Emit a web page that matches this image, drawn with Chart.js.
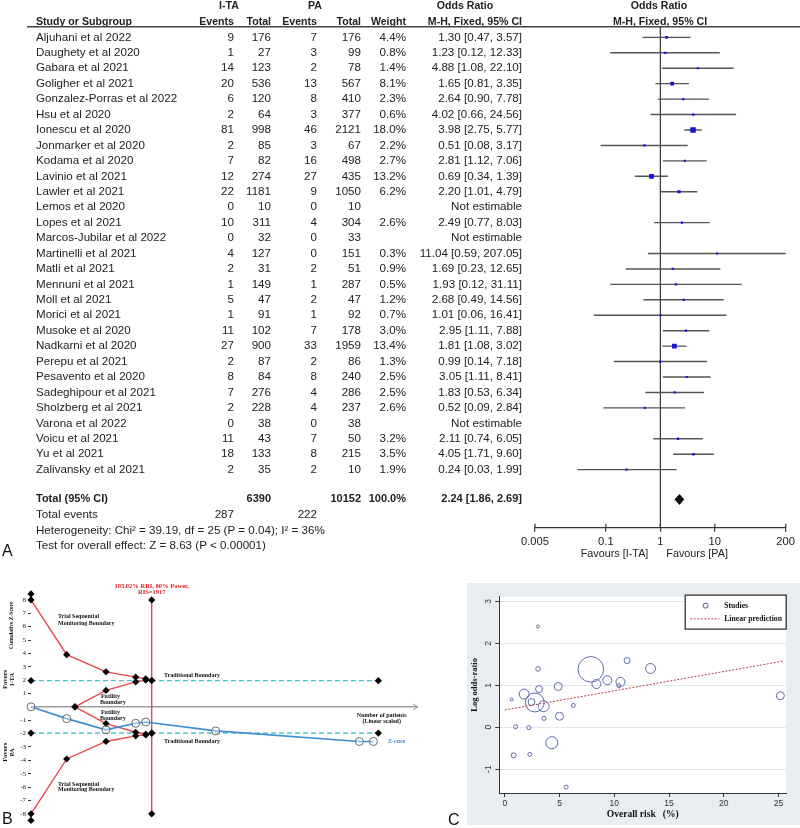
<!DOCTYPE html>
<html>
<head>
<meta charset="utf-8">
<script src="https://cdn.jsdelivr.net/npm/chart.js@4.4.1/dist/chart.umd.min.js"></script>
<style>
html, body { margin: 0; padding: 0; background: #fff; }
#wrap { position: relative; width: 800px; height: 828px; overflow: hidden; background: #fff; }
canvas { position: absolute; }
.panel { position: absolute; font: 16px "Liberation Sans", Arial, sans-serif; line-height: 16px; color: #111; }
</style>
</head>
<body>
<div id="wrap">
  <canvas id="forest" width="800" height="565" style="left:0;top:0"></canvas>
  <canvas id="tsa" width="425" height="258" style="left:0;top:570px"></canvas>
  <canvas id="bubble" width="333" height="242" style="left:467px;top:583px"></canvas>
  <div class="panel" style="left:2px;top:543px">A</div>
  <div class="panel" style="left:2px;top:811px">B</div>
  <div class="panel" style="left:448px;top:812px">C</div>
</div>
<script>
// ===== Panel A data: forest plot =====
const studies = [
    "Aljuhani et al 2022", "Daughety et al 2020", "Gabara et al 2021", "Goligher et al 2021",
    "Gonzalez-Porras et al 2022", "Hsu et al 2020", "Ionescu et al 2020", "Jonmarker et al 2020",
    "Kodama et al 2020", "Lavinio et al 2021", "Lawler et al 2021", "Lemos et al 2020",
    "Lopes et al 2021", "Marcos-Jubilar et al 2022", "Martinelli et al 2021", "Matli et al 2021",
    "Mennuni et al 2021", "Moll et al 2021", "Morici et al 2021", "Musoke et al 2020",
    "Nadkarni et al 2020", "Perepu et al 2021", "Pesavento et al 2020", "Sadeghipour et al 2021",
    "Sholzberg et al 2021", "Varona et al 2022", "Voicu et al 2021", "Yu et al 2021", "Zalivansky et al 2021"
];
const itaEvents = [9, 1, 14, 20, 6, 2, 81, 2, 7, 12, 22, 0, 10, 0, 4, 2, 1, 5, 1, 11, 27, 2, 8, 7, 2, 0, 11, 18, 2];
const itaTotal = [176, 27, 123, 536, 120, 64, 998, 85, 82, 274, 1181, 10, 311, 32, 127, 31, 149, 47, 91, 102, 900, 87, 84, 276, 228, 38, 43, 133, 35];
const paEvents = [7, 3, 2, 13, 8, 3, 46, 3, 16, 27, 9, 0, 4, 0, 0, 2, 1, 2, 1, 7, 33, 2, 8, 4, 4, 0, 7, 8, 2];
const paTotal = [176, 99, 78, 567, 410, 377, 2121, 67, 498, 435, 1050, 10, 304, 33, 151, 51, 287, 47, 92, 178, 1959, 86, 240, 286, 237, 38, 50, 215, 10];
const weightPct = [4.4, 0.8, 1.4, 8.1, 2.3, 0.6, 18.0, 2.2, 2.7, 13.2, 6.2, null, 2.6, null, 0.3, 0.9, 0.5, 1.2, 0.7, 3.0, 13.4, 1.3, 2.5, 2.5, 2.6, null, 3.2, 3.5, 1.9];
const orPoint = [1.30, 1.23, 4.88, 1.65, 2.64, 4.02, 3.98, 0.51, 2.81, 0.69, 2.20, null, 2.49, null, 11.04, 1.69, 1.93, 2.68, 1.01, 2.95, 1.81, 0.99, 3.05, 1.83, 0.52, null, 2.11, 4.05, 0.24];
const orLow = [0.47, 0.12, 1.08, 0.81, 0.90, 0.66, 2.75, 0.08, 1.12, 0.34, 1.01, null, 0.77, null, 0.59, 0.23, 0.12, 0.49, 0.06, 1.11, 1.08, 0.14, 1.11, 0.53, 0.09, null, 0.74, 1.71, 0.03];
const orHigh = [3.57, 12.33, 22.10, 3.35, 7.78, 24.56, 5.77, 3.17, 7.06, 1.39, 4.79, null, 8.03, null, 207.05, 12.65, 31.11, 14.56, 16.41, 7.88, 3.02, 7.18, 8.41, 6.34, 2.84, null, 6.05, 9.60, 1.99];
const pooledOR = [2.24, 1.86, 2.69];   // estimate, low, high
const totalParticipants = [6390, 10152];
const totalEvents = [287, 222];
const forestTicks = [0.005, 0.1, 1, 10, 200];

// ===== Panel B data: trial sequential analysis =====
const tsmbX = [0, 567, 1191, 1663, 1822, 1917];
const tsmbUpper = [8.0, 3.9, 2.62, 2.22, 2.1, 1.97];
const tsmbLower = [-8.0, -3.9, -2.59, -2.17, -2.1, -1.97];
const futilityX = [699, 1191, 1663, 1822, 1917];
const futilityUpper = [0, 1.23, 1.87, 2.0, 1.97];
const futilityLower = [0, -1.25, -1.9, -2.05, -1.97];
const traditionalX = [0, 5516];
const traditionalZ = 1.96;
const risPatients = 1917;
const capZ = [8.45, -8.5];
const zCurveX = [0, 567, 1191, 1663, 1822, 2933, 5214, 5437];
const zCurveY = [0, -0.88, -1.72, -1.23, -1.13, -1.8, -2.59, -2.59];
const tsaYTicks = [-8, -7, -6, -5, -4, -3, -2, -1, 1, 2, 3, 4, 5, 6, 7, 8];

// ===== Panel C data: meta-regression =====
const overallRisk = [3.04, 3.04, 7.86, 11.17, 13.31, 9.36, 8.37, 10.57, 10.42, 4.88, 3.13, 1.77, 0.63, 2.44, 2.74, 3.55, 6.26, 25.17, 5.0, 3.58, 0.99, 2.2, 4.3, 0.81, 2.29, 5.6];
const logOddsRatio = [2.40, 1.39, 1.38, 1.59, 1.40, 1.12, 1.03, 1.08, 0.99, 0.97, 0.91, 0.79, 0.66, 0.60, 0.59, 0.50, 0.52, 0.75, 0.26, 0.21, 0.01, -0.01, -0.37, -0.67, -0.65, -1.43];
const bubbleWeight = [1.0, 2.4, 73, 4, 11, 9, 9, 9, 1.8, 7.1, 5.4, 11, 1.0, 5.4, 40, 13.4, 1.8, 7.1, 7.1, 1.8, 1.8, 1.8, 16, 2.8, 1.8, 1.8];
const fitX = [0, 25.5];
const fitY = [0.41, 1.58];
const riskTicks = [0, 5, 10, 15, 20, 25];
const lorTicks = [-1, 0, 1, 2, 3];

Chart.defaults.animation = false;
Chart.defaults.plugins.legend.display = false;
Chart.defaults.plugins.tooltip.enabled = false;
Chart.defaults.font.family = '"Liberation Sans", Arial, sans-serif';

const SANS = '"Liberation Sans", Arial, sans-serif';
const SERIF = '"Liberation Serif", "Times New Roman", serif';

// ===== 1. Forest plot =====
const rowTop = -0.69, rowBottom = 31.76;
const totalRow = 29.93;

const ciPoints = [];
const dotPoints = [];
const dotRadius = [];
studies.forEach((s, i) => {
    if (orPoint[i] === null) return;
    ciPoints.push({ x: orLow[i], y: i }, { x: orHigh[i], y: i }, { x: null, y: null });
    dotPoints.push({ x: orPoint[i], y: i });
    const side = Math.max(2.2, 1.3 * Math.sqrt(weightPct[i]));
    dotRadius.push(side / Math.SQRT2);
});
const diamond = [
    { x: pooledOR[1], y: totalRow },
    { x: pooledOR[0], y: totalRow - 0.32 },
    { x: pooledOR[2], y: totalRow },
    { x: pooledOR[0], y: totalRow + 0.32 },
    { x: pooledOR[1], y: totalRow }
];

const forestTable = {
    id: "forestTable",
    afterDraw(chart) {
        const { ctx, chartArea: a, scales: { x, y } } = chart;
        const row = (v) => y.getPixelForValue(v);
        const put = (t, px, v, align, font) => {
            ctx.font = font;
            ctx.textAlign = align;
            ctx.fillText(t, px, row(v));
        };
        const reg = "11.6px " + SANS, bold = "bold 10.6px " + SANS, boldT = "bold 11px " + SANS;
        ctx.save();
        ctx.fillStyle = "#222";
        ctx.textBaseline = "middle";

        // header
        put("I-TA", 229, -2.03, "center", bold);
        put("PA", 315, -2.03, "center", bold);
        put("Odds Ratio", 465, -2.03, "center", bold);
        put("Odds Ratio", 659, -2.03, "center", bold);
        put("Study or Subgroup", 36, -1.01, "left", bold);
        put("Events", 234, -1.01, "right", bold);
        put("Total", 271, -1.01, "right", bold);
        put("Events", 317, -1.01, "right", bold);
        put("Total", 361, -1.01, "right", bold);
        put("Weight", 406, -1.01, "right", bold);
        put("M-H, Fixed, 95% CI", 522, -1.01, "right", bold);
        put("M-H, Fixed, 95% CI", 660, -1.01, "center", bold);

        ctx.strokeStyle = "#444";
        ctx.lineWidth = 1.5;
        ctx.beginPath();
        ctx.moveTo(27, a.top);
        ctx.lineTo(800, a.top);
        ctx.stroke();

        // study rows
        studies.forEach((s, i) => {
            put(s, 36, i, "left", reg);
            put(String(itaEvents[i]), 234, i, "right", reg);
            put(String(itaTotal[i]), 271, i, "right", reg);
            put(String(paEvents[i]), 317, i, "right", reg);
            put(String(paTotal[i]), 361, i, "right", reg);
            if (orPoint[i] === null) {
                put("Not estimable", 522, i, "right", reg);
            } else {
                put(weightPct[i].toFixed(1) + "%", 406, i, "right", reg);
                put(orPoint[i].toFixed(2) + " [" + orLow[i].toFixed(2) + ", " + orHigh[i].toFixed(2) + "]", 522, i, "right", reg);
            }
        });

        // totals
        put("Total (95% CI)", 36, totalRow, "left", boldT);
        put(String(totalParticipants[0]), 271, totalRow, "right", boldT);
        put(String(totalParticipants[1]), 361, totalRow, "right", boldT);
        put("100.0%", 406, totalRow, "right", boldT);
        put(pooledOR[0].toFixed(2) + " [" + pooledOR[1].toFixed(2) + ", " + pooledOR[2].toFixed(2) + "]", 522, totalRow, "right", boldT);
        put("Total events", 36, totalRow + 1, "left", reg);
        put(String(totalEvents[0]), 234, totalRow + 1, "right", reg);
        put(String(totalEvents[1]), 317, totalRow + 1, "right", reg);
        put("Heterogeneity: Chi\u00b2 = 39.19, df = 25 (P = 0.04); I\u00b2 = 36%", 36, totalRow + 2, "left", reg);
        put("Test for overall effect: Z = 8.63 (P < 0.00001)", 36, totalRow + 3, "left", reg);

        // upper half of the axis ticks
        ctx.strokeStyle = "#333";
        ctx.lineWidth = 1.2;
        x.ticks.forEach((t) => {
            const px = x.getPixelForValue(t.value);
            ctx.beginPath();
            ctx.moveTo(px, a.bottom - 4);
            ctx.lineTo(px, a.bottom);
            ctx.stroke();
        });

        const x1 = x.getPixelForValue(1);
        ctx.font = "10.8px " + SANS;
        ctx.textAlign = "right";
        ctx.fillText("Favours [I-TA]", x1 - 12, a.bottom + 26);
        ctx.textAlign = "left";
        ctx.fillText("Favours [PA]", x1 + 6, a.bottom + 26);
        ctx.restore();
    }
};

new Chart(document.getElementById("forest"), {
    type: "scatter",
    data: {
        datasets: [
            {
                data: dotPoints,
                pointStyle: "rect",
                pointRadius: dotRadius,
                pointBackgroundColor: "#1414d8",
                pointBorderColor: "#1414d8",
                pointBorderWidth: 0
            },
            {
                data: diamond,
                showLine: true,
                fill: "shape",
                backgroundColor: "#111",
                borderColor: "#111",
                borderWidth: 1,
                pointRadius: 0,
                tension: 0
            },
            {
                data: ciPoints,
                showLine: true,
                spanGaps: false,
                borderColor: "#555",
                borderWidth: 1.4,
                pointRadius: 0,
                tension: 0
            },
            {
                data: [{ x: 1, y: rowTop }, { x: 1, y: rowBottom }],
                showLine: true,
                borderColor: "#333",
                borderWidth: 1.2,
                pointRadius: 0
            }
        ]
    },
    options: {
        responsive: false,
        layout: { padding: { left: 535, right: 14.3, top: 26.7, bottom: 0 } },
        scales: {
            x: {
                type: "logarithmic",
                min: 0.005,
                max: 200,
                afterBuildTicks: (s) => { s.ticks = forestTicks.map((v) => ({ value: v })); },
                afterFit: (s) => { s.height = 565 - 527.7; },
                grid: { drawOnChartArea: false, drawTicks: true, tickLength: 4, color: "#333", lineWidth: 1.2 },
                border: { display: true, color: "#333", width: 1.3 },
                ticks: {
                    autoSkip: false, maxRotation: 0, padding: 3,
                    color: "#222", font: { size: 11.2, family: SANS },
                    callback: (v) => String(v)
                }
            },
            y: {
                type: "linear",
                display: false,
                reverse: true,
                min: rowTop,
                max: rowBottom
            }
        }
    },
    plugins: [forestTable]
});

// ===== 2. Trial sequential analysis =====
const xy = (xs, ys) => xs.map((v, i) => ({ x: v, y: ys[i] }));
const RED = "#e8474c";
const diamondPts = { pointStyle: "rectRot", pointRadius: 3.6, pointBackgroundColor: "#000", pointBorderColor: "#000", pointBorderWidth: 0 };

const tsaText = {
    id: "tsaText",
    beforeDatasetsDraw(chart) {
        const { ctx, chartArea: a, scales: { y } } = chart;
        const y0 = y.getPixelForValue(0);
        ctx.save();
        ctx.strokeStyle = "#9c9c9c";
        ctx.lineWidth = 1.5;
        ctx.beginPath();
        ctx.moveTo(a.left, y0);
        ctx.lineTo(a.right, y0);
        ctx.stroke();
        ctx.lineWidth = 1;
        ctx.beginPath();
        ctx.moveTo(a.right - 5, y0 - 3);
        ctx.lineTo(a.right, y0);
        ctx.lineTo(a.right - 5, y0 + 3);
        ctx.stroke();
        ctx.restore();
    },
    afterDraw(chart) {
        const { ctx, scales: { x, y } } = chart;
        const put = (t, xv, yv, align, color, size) => {
            ctx.font = "bold " + (size || 6) + "px " + SERIF;
            ctx.fillStyle = color || "#111";
            ctx.textAlign = align;
            ctx.fillText(t, x.getPixelForValue(xv), y.getPixelForValue(yv));
        };
        ctx.save();
        ctx.textBaseline = "middle";
        put("Trial Sequential", 429, 6.73, "left");
        put("Monitoring Boundary", 429, 6.21, "left");
        put("Trial Sequential", 429, -5.77, "left");
        put("Monitoring Boundary", 429, -6.21, "left");
        put("Futility", 1110, 0.76, "left");
        put("Boundary", 1096, 0.31, "left");
        put("Futility", 1110, -0.43, "left");
        put("Boundary", 1096, -0.88, "left");
        put("Traditional Boundary", 2112, 2.37, "left");
        put("Traditional Boundary", 2112, -2.59, "left");
        put("Number of patients", 5569, -0.68, "center");
        put("(Linear scaled)", 5569, -1.1, "center");
        put("Z-cure", 5669, -2.57, "left", "#3d8ed4");
        put("105.02% RRI, 80% Power,", risPatients, 9.04, "center", "#e02020", 6.5);
        put("RIS=1917", risPatients, 8.6, "center", "#e02020", 6.5);

        // rotated axis titles
        const rot = (t, px, yv) => {
            ctx.save();
            ctx.translate(px, y.getPixelForValue(yv));
            ctx.rotate(-Math.PI / 2);
            ctx.textAlign = "center";
            ctx.fillText(t, 0, 0);
            ctx.restore();
        };
        ctx.fillStyle = "#111";
        ctx.font = "bold 5.5px " + SERIF;
        rot("Cumulative Z-Score", 12, 6.1);
        ctx.font = "bold 6.5px " + SERIF;
        rot("Favors", 5, 2.05);
        rot("I-TA", 12, 2.05);
        rot("Favors", 5, -3.4);
        rot("PA", 12, -3.4);
        ctx.restore();
    }
};

new Chart(document.getElementById("tsa"), {
    type: "scatter",
    data: {
        datasets: [
            {
                data: xy(zCurveX, zCurveY),
                showLine: true,
                borderColor: "#3d8ed4",
                borderWidth: 1.6,
                pointStyle: "circle",
                pointRadius: 4,
                pointBackgroundColor: "rgba(255,255,255,0.4)",
                pointBorderColor: "#6a6a6a",
                pointBorderWidth: 1
            },
            Object.assign({ data: xy(tsmbX, tsmbUpper), showLine: true, borderColor: RED, borderWidth: 1.4 }, diamondPts),
            Object.assign({ data: xy(tsmbX, tsmbLower), showLine: true, borderColor: RED, borderWidth: 1.4 }, diamondPts),
            Object.assign({ data: xy(futilityX, futilityUpper), showLine: true, borderColor: RED, borderWidth: 1.4 }, diamondPts),
            Object.assign({ data: xy(futilityX, futilityLower), showLine: true, borderColor: RED, borderWidth: 1.4 }, diamondPts),
            Object.assign({ data: [{ x: risPatients, y: 8 }, { x: risPatients, y: -8 }], showLine: true, borderColor: RED, borderWidth: 1.4 }, diamondPts),
            Object.assign({ data: capZ.map((v) => ({ x: 0, y: v })) }, diamondPts),
            Object.assign({ data: traditionalX.map((v) => ({ x: v, y: traditionalZ })), showLine: true, borderColor: "#4cc4cf", borderWidth: 1.4, borderDash: [5, 3] }, diamondPts),
            Object.assign({ data: traditionalX.map((v) => ({ x: v, y: -traditionalZ })), showLine: true, borderColor: "#4cc4cf", borderWidth: 1.4, borderDash: [5, 3] }, diamondPts)
        ]
    },
    options: {
        responsive: false,
        clip: false,
        layout: { padding: { left: 0, right: 7, top: 21.9, bottom: 4.9 } },
        scales: {
            x: { type: "linear", display: false, min: 0, max: 6146 },
            y: {
                type: "linear",
                min: -8.6,
                max: 8.6,
                afterBuildTicks: (s) => { s.ticks = tsaYTicks.map((v) => ({ value: v })); },
                afterFit: (s) => { s.width = 31; },
                grid: { drawOnChartArea: false, drawTicks: true, tickLength: 3, color: "#333" },
                border: { display: false },
                ticks: { padding: 2, color: "#222", font: { size: 7, family: SERIF } }
            }
        }
    },
    plugins: [tsaText]
});

// ===== 3. Meta-regression bubble plot =====
const bubbleDeco = {
    id: "bubbleDeco",
    beforeDraw(chart) {
        const { ctx, chartArea: a } = chart;
        ctx.save();
        ctx.fillStyle = "#e7edf1";
        ctx.fillRect(0, 0, chart.width, chart.height);
        ctx.fillStyle = "#fff";
        ctx.fillRect(a.left, a.top, a.right - a.left, a.bottom - a.top);
        ctx.restore();
    },
    afterDraw(chart) {
        const { ctx, chartArea: a, scales: { y } } = chart;
        ctx.save();
        ctx.fillStyle = "#333";
        ctx.textBaseline = "middle";
        ctx.textAlign = "center";
        ctx.font = "8.5px " + SANS;
        y.ticks.forEach((t) => {
            ctx.save();
            ctx.translate(a.left - 11, y.getPixelForValue(t.value));
            ctx.rotate(-Math.PI / 2);
            ctx.fillText(String(t.value), 0, 0);
            ctx.restore();
        });
        ctx.fillStyle = "#111";
        ctx.font = "bold 9.5px " + SERIF;
        ctx.fillText("Overall risk   (%)", (a.left + a.right) / 2, a.bottom + 22);
        ctx.save();
        ctx.translate(8, (a.top + a.bottom) / 2 - 10);
        ctx.rotate(-Math.PI / 2);
        ctx.font = "bold 8.5px " + SERIF;
        ctx.fillText("Log odds-ratio", 0, 0);
        ctx.restore();

        // legend
        const lx = a.right - 101, ly = a.top - 1.7, lw = 101, lh = 34;
        ctx.fillStyle = "#fff";
        ctx.fillRect(lx, ly, lw, lh);
        ctx.strokeStyle = "#222";
        ctx.lineWidth = 1.2;
        ctx.strokeRect(lx, ly, lw, lh);
        ctx.strokeStyle = "#4a5a94";
        ctx.lineWidth = 1;
        ctx.beginPath();
        ctx.arc(lx + 20.5, ly + 10.5, 2.5, 0, Math.PI * 2);
        ctx.stroke();
        ctx.strokeStyle = "#b5424a";
        ctx.setLineDash([2, 1.5]);
        ctx.beginPath();
        ctx.moveTo(lx + 5, ly + 23.7);
        ctx.lineTo(lx + 34, ly + 23.7);
        ctx.stroke();
        ctx.setLineDash([]);
        ctx.fillStyle = "#111";
        ctx.textAlign = "left";
        ctx.font = "bold 7.7px " + SERIF;
        ctx.fillText("Studies", lx + 39, ly + 10.5);
        ctx.fillText("Linear prediction", lx + 39, ly + 23.7);
        ctx.restore();
    }
};

new Chart(document.getElementById("bubble"), {
    type: "scatter",
    data: {
        datasets: [
            {
                data: xy(fitX, fitY),
                showLine: true,
                borderColor: "#b5424a",
                borderWidth: 1,
                borderDash: [2, 1.5],
                pointRadius: 0
            },
            {
                type: "bubble",
                data: overallRisk.map((v, i) => ({ x: v, y: logOddsRatio[i], r: 1.5 * Math.sqrt(bubbleWeight[i]) })),
                backgroundColor: "rgba(0,0,0,0)",
                borderColor: "#5e6ea6",
                borderWidth: 1
            }
        ]
    },
    options: {
        responsive: false,
        layout: { padding: { left: 0, right: 11, top: 11, bottom: 0 } },
        scales: {
            x: {
                type: "linear",
                min: -0.5,
                max: 25.7,
                afterBuildTicks: (s) => { s.ticks = riskTicks.map((v) => ({ value: v })); },
                afterFit: (s) => { s.height = 32; },
                grid: { drawOnChartArea: false, drawTicks: true, tickLength: 4, color: "#333" },
                border: { display: true, color: "#333", width: 1 },
                ticks: { padding: 2, color: "#333", font: { size: 8.5, family: SANS } }
            },
            y: {
                type: "linear",
                min: -1.57,
                max: 3.11,
                afterBuildTicks: (s) => { s.ticks = lorTicks.map((v) => ({ value: v })); },
                afterFit: (s) => { s.width = 32.3; },
                grid: { drawOnChartArea: true, drawTicks: true, tickLength: 4, color: "#e2eaee", tickColor: "#333" },
                border: { display: true, color: "#333", width: 1 },
                ticks: { display: false }
            }
        }
    },
    plugins: [bubbleDeco]
});
</script>
</body>
</html>
